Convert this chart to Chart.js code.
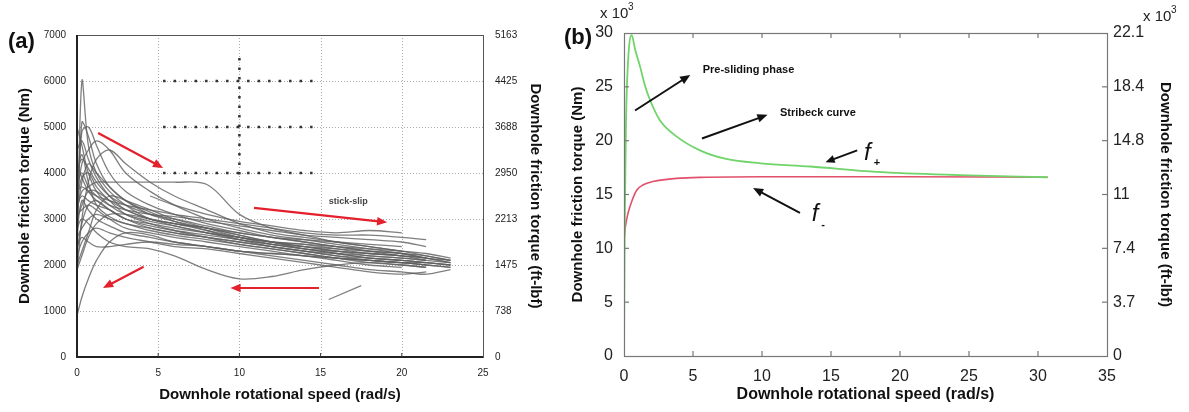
<!DOCTYPE html>
<html>
<head>
<meta charset="utf-8">
<script src="https://cdn.jsdelivr.net/npm/chart.js@4.4.0/dist/chart.umd.min.js"></script>
<style>
  body { margin:0; background:#fff; width:1189px; height:412px; position:relative; overflow:hidden; font-family:"Liberation Sans", Arial, sans-serif; }
  #ca { position:absolute; left:0; top:0; }
  #cb { position:absolute; left:560px; top:0; }
  .tag { position:absolute; font-weight:bold; font-size:22px; color:#111; }
</style>
</head>
<body>
<canvas id="ca" width="560" height="412"></canvas>
<canvas id="cb" width="629" height="412"></canvas>
<div class="tag" style="left:8px;top:28px">(a)</div>
<div class="tag" style="left:564px;top:24px">(b)</div>
<script>
// ---- panel (a): measured torque curves, Nm vs rad/s ----
const speedA = [0, 0.3, 0.7, 1.2, 2, 3, 4.5, 6, 8, 10, 12, 14, 16, 18, 20, 21.5, 23];
const torqueA = [
  [2000, 6000, 4600, 4000, 3600, 3300, 3000, 2900, 2750, 2600, 2500, 2400, 2300, 2200, 2150, 2100, null],
  [2500, 5100, 4800, 4200, 3700, 3400, 3100, 2950, 2800, 2650, 2500, 2400, 2300, 2250, 2200, null, null],
  [3000, 4900, 5000, 4600, 4000, 3600, 3300, 3100, 2900, 2750, 2600, 2500, 2400, 2300, 2200, 2150, 2050],
  [3500, 4200, 4500, 4700, 4500, 4000, 3600, 3300, 3000, 2800, 2650, 2550, 2450, 2350, 2250, 2150, null],
  [1800, 3000, 3800, 4300, 4500, 4200, 3800, 3500, 3200, 2900, 2700, 2600, 2500, 2400, 2300, 2200, 2100],
  [3200, 3600, 3700, 3800, 3800, 3800, 3800, 3800, 3750, 3100, 2800, 2650, 2500, 2400, 2300, null, null],
  [900, 1300, 1700, 2100, 2500, 2700, 2650, 2500, 2400, 2300, 2250, 2200, 2100, 2000, 1950, null, null],
  [1900, 2200, 2600, 2900, 3100, 3100, 3000, 2900, 2800, 2650, 2500, 2350, 2250, 2150, 2100, 2050, 2000],
  [2800, 3000, 2900, 2700, 2500, 2400, 2350, 2200, 1900, 1700, 1750, 1900, 2000, 2050, 2000, 1950, null],
  [4000, 4300, 4100, 3800, 3500, 3300, 3100, 3000, 2850, 2700, 2600, 2500, 2400, 2300, 2250, 2150, 2100],
  [3300, 3500, 3400, 3300, 3200, 3000, 2800, 2700, 2600, 2500, 2400, 2300, 2200, 2100, 2050, 2000, 1950],
  [2600, 2800, 3000, 3100, 3000, 2900, 2750, 2650, 2550, 2450, 2350, 2250, 2150, 2050, 2000, 1950, null],
  [3800, 4000, 3700, 3500, 3300, 3200, 3100, 3050, 2950, 2850, 2750, 2650, 2600, 2550, 2500, 2400, null],
  [2200, 2500, 2700, 2800, 2700, 2600, 2500, 2400, 2350, 2250, 2150, 2050, 1950, 1850, 1800, 1850, null],
  [4500, 4700, 4300, 3900, 3500, 3200, 3000, 2850, 2700, 2600, 2500, 2450, 2400, 2350, 2300, 2250, 2150],
  [3000, 3300, 3600, 3600, 3400, 3200, 3000, 2900, 2800, 2700, 2600, 2550, 2500, 2450, 2400, null, null],
  [3600, 3700, 3600, 3500, 3400, 3300, 3200, 3100, 3000, 2900, 2800, 2700, 2650, 2650, 2600, 2550, null],
  [2400, 2600, 2500, 2400, 2400, 2450, 2500, 2450, 2400, 2300, 2200, 2100, 2000, 1900, 1850, 1800, 1900],
  [5000, 4600, 4000, 3600, 3300, 3100, 2950, 2850, 2700, 2550, 2450, 2350, 2250, 2150, 2100, 2050, 2000],
  [3100, 3200, 3300, 3200, 3000, 2800, 2700, 2600, 2500, 2400, 2300, 2200, 2150, 2100, 2050, 2000, null],
  [4200, 3900, 3600, 3400, 3200, 3000, 2900, 2800, 2700, 2600, 2500, 2450, 2350, 2250, 2200, 2150, 2050],
  [2000, 2300, 2700, 3200, 3500, 3400, 3200, 3000, 2800, 2600, 2450, 2350, 2300, 2250, 2200, 2100, null],
  [null, null, null, null, null, null, 3500, 3300, 3100, 2950, 2850, 2750, 2700, 2750, 2700, null, null],
  [3400, 3900, 4000, 3700, 3400, 3100, 2900, 2750, 2600, 2450, 2350, 2250, 2150, 2100, 2050, 2000, 1950],
  [2700, 3400, 3200, 3000, 2850, 2700, 2600, 2500, 2400, 2300, 2250, 2200, 2150, 2100, 2050, 2050, 2000],
  [3900, 4400, 3800, 3300, 3050, 2900, 2800, 2700, 2600, 2500, 2400, 2300, 2250, 2200, 2150, 2100, 2050],
  [2300, 2900, 3300, 3400, 3200, 3000, 2850, 2750, 2650, 2550, 2450, 2400, 2350, 2300, 2250, 2200, 2100],
  [3100, 3800, 4200, 4000, 3700, 3400, 3150, 2950, 2750, 2550, 2400, 2300, 2200, 2150, 2100, 2050, null]
];
const strayX = [15.5, 17.5];
const strayY = [1250, 1550];
const rightTicksA = ['0', '738', '1475', '2213', '2950', '3688', '4425', '5163'];
// heavy dotted marks printed on the scanned figure
const heavyRows = [6000, 5000, 4000];
const heavyRowX = [5.3, 14.8];
const heavyColX = 10;
const heavyColY = [6500, 3900];

// ---- panel (b): model friction curves, x10^3 Nm ----
const speedPlus = [0, 0.05, 0.15, 0.3, 0.56, 0.8, 1.16, 1.5, 1.88, 2.6, 3.8, 5.5, 7.4, 9.9, 13.5, 18.3, 24.3, 30.7];
const fPlus = [0, 12, 22, 27.5, 29.8, 28.5, 26.9, 25.2, 23.8, 21.9, 20.4, 19.1, 18.3, 17.9, 17.6, 17.1, 16.8, 16.6];
const speedMinus = [0, 0.1, 0.3, 0.6, 0.92, 1.4, 2.1, 3.8, 6, 10, 20, 30.7];
const fMinus = [10.8, 12, 13.3, 14.5, 15.4, 15.9, 16.2, 16.5, 16.6, 16.65, 16.65, 16.6];
const rightTicksB = ['0', '3.7', '7.4', '11', '14.8', '18.4', '22.1'];

function pts(xs, ys) {
  return xs.map((x, i) => ys[i] == null ? null : { x: x, y: ys[i] }).filter(p => p);
}

function arrow(ctx, x1, y1, x2, y2, color, w, head) {
  const a = Math.atan2(y2 - y1, x2 - x1);
  ctx.save();
  ctx.strokeStyle = color; ctx.fillStyle = color; ctx.lineWidth = w;
  ctx.beginPath();
  ctx.moveTo(x1, y1);
  ctx.lineTo(x2 - Math.cos(a) * head * 0.8, y2 - Math.sin(a) * head * 0.8);
  ctx.stroke();
  ctx.beginPath();
  ctx.moveTo(x2, y2);
  ctx.lineTo(x2 - head * Math.cos(a - 0.4), y2 - head * Math.sin(a - 0.4));
  ctx.lineTo(x2 - head * Math.cos(a + 0.4), y2 - head * Math.sin(a + 0.4));
  ctx.closePath();
  ctx.fill();
  ctx.restore();
}

const tickFontA = { family: 'Liberation Sans', size: 10 };
const titleFont = { family: 'Liberation Sans', size: 15, weight: 'bold' };

// ---------------- chart (a) ----------------
const dsA = torqueA.map(v => ({
  data: pts(speedA, v), borderColor: 'rgba(95,95,95,0.8)', borderWidth: 1.3,
  pointRadius: 0, tension: 0.35, yAxisID: 'y'
}));
dsA.push({ data: pts(strayX, strayY), borderColor: 'rgba(95,95,95,0.8)', borderWidth: 1.3, pointRadius: 0, yAxisID: 'y' });
heavyRows.forEach(r => dsA.push({
  data: pts(heavyRowX, heavyRowX.map(() => r)), borderColor: '#333', borderWidth: 2.5,
  borderDash: [2.5, 8], pointRadius: 0, yAxisID: 'y'
}));
dsA.push({ data: pts(heavyColY.map(() => heavyColX), heavyColY), borderColor: '#333', borderWidth: 2.5,
  borderDash: [2.5, 7], pointRadius: 0, yAxisID: 'y' });

const frameA = {
  id: 'frameA',
  beforeDatasetsDraw(chart) {
    const { ctx, chartArea: ca, scales } = chart;
    ctx.save();
    ctx.strokeStyle = '#aaa'; ctx.lineWidth = 1; ctx.setLineDash([1, 2]);
    [5, 10, 15, 20].forEach(v => {
      const x = Math.round(scales.x.getPixelForValue(v)) + 0.5;
      ctx.beginPath(); ctx.moveTo(x, ca.top); ctx.lineTo(x, ca.bottom); ctx.stroke();
    });
    [1000, 2000, 3000, 4000, 5000, 6000].forEach(v => {
      const y = Math.round(scales.y.getPixelForValue(v)) + 0.5;
      ctx.beginPath(); ctx.moveTo(ca.left, y); ctx.lineTo(ca.right, y); ctx.stroke();
    });
    ctx.restore();
  },
  afterDraw(chart) {
    const { ctx, chartArea: ca, scales } = chart;
    ctx.save();
    ctx.strokeStyle = '#555'; ctx.lineWidth = 1;
    ctx.strokeRect(ca.left + 0.5, ca.top + 0.5, ca.right - ca.left, ca.bottom - ca.top);
    ctx.strokeStyle = '#222'; ctx.lineWidth = 2;
    ctx.beginPath(); ctx.moveTo(ca.left, ca.top); ctx.lineTo(ca.left, ca.bottom); ctx.lineTo(ca.right, ca.bottom); ctx.stroke();
    ctx.lineWidth = 1; ctx.strokeStyle = '#333';
    [5, 10, 15, 20].forEach(v => {
      const x = scales.x.getPixelForValue(v);
      ctx.beginPath(); ctx.moveTo(x, ca.bottom); ctx.lineTo(x, ca.bottom - 4); ctx.stroke();
    });
    // red arrows
    const X = v => scales.x.getPixelForValue(v), Y = v => scales.y.getPixelForValue(v);
    const red = '#e3202b';
    arrow(ctx, X(1.3), Y(4870), X(5.3), Y(4110), red, 2.2, 11);
    arrow(ctx, X(10.9), Y(3240), X(19.1), Y(2930), red, 2.2, 11);
    arrow(ctx, X(4.1), Y(1960), X(1.6), Y(1500), red, 2.2, 11);
    arrow(ctx, X(14.9), Y(1500), X(9.45), Y(1500), red, 2.2, 11);
    ctx.fillStyle = '#444'; ctx.font = 'bold 9px "Liberation Sans"';
    ctx.textAlign = 'center'; ctx.textBaseline = 'middle';
    ctx.fillText('stick-slip', X(16.7), Y(3390));
    ctx.restore();
  }
};

new Chart(document.getElementById('ca'), {
  type: 'line',
  data: { datasets: dsA },
  options: {
    responsive: false, animation: false, devicePixelRatio: 1,
    layout: { padding: { top: 35, left: 0, right: 0, bottom: 0 } },
    plugins: { legend: { display: false }, tooltip: { enabled: false } },
    scales: {
      x: {
        type: 'linear', min: 0, max: 25,
        ticks: { stepSize: 5, color: '#222', font: tickFontA, padding: 2 },
        grid: { display: false }, border: { display: false },
        title: { display: true, text: 'Downhole rotational speed (rad/s)', color: '#111', font: titleFont, padding: { top: 0, bottom: 8 } },
        afterFit(s) { s.height = 55; }
      },
      y: {
        min: 0, max: 7000,
        ticks: { stepSize: 1000, color: '#222', font: tickFontA, padding: 3, callback: v => String(v) },
        grid: { display: false }, border: { display: false },
        title: { display: true, text: 'Downhole friction torque (Nm)', color: '#111', font: titleFont, padding: { top: 16, bottom: 0 } },
        afterFit(s) { s.width = 77; }
      },
      y2: {
        position: 'right', min: 0, max: 7000,
        ticks: { stepSize: 1000, color: '#222', font: tickFontA, padding: 4, callback: (v, i) => rightTicksA[i] },
        grid: { display: false }, border: { display: false },
        title: { display: true, text: 'Downhole friction torque (ft-lbf)', color: '#111', font: titleFont, padding: { top: 16, bottom: 0 } },
        afterFit(s) { s.width = 77; }
      }
    }
  },
  plugins: [frameA]
});

// ---------------- chart (b) ----------------
const tickFontB = { family: 'Liberation Sans', size: 16 };

const frameB = {
  id: 'frameB',
  afterDraw(chart) {
    const { ctx, chartArea: ca, scales } = chart;
    const X = v => scales.x.getPixelForValue(v), Y = v => scales.y.getPixelForValue(v);
    ctx.save();
    ctx.strokeStyle = '#777'; ctx.lineWidth = 1.2;
    ctx.strokeRect(ca.left + 0.5, ca.top + 0.5, ca.right - ca.left, ca.bottom - ca.top);
    [5, 10, 15, 20, 25, 30].forEach(v => {
      const x = X(v);
      ctx.beginPath(); ctx.moveTo(x, ca.bottom); ctx.lineTo(x, ca.bottom - 5); ctx.stroke();
      ctx.beginPath(); ctx.moveTo(x, ca.top); ctx.lineTo(x, ca.top + 5); ctx.stroke();
    });
    [5, 10, 15, 20, 25].forEach(v => {
      const y = Y(v);
      ctx.beginPath(); ctx.moveTo(ca.right, y); ctx.lineTo(ca.right - 5, y); ctx.stroke();
      ctx.beginPath(); ctx.moveTo(ca.left, y); ctx.lineTo(ca.left + 5, y); ctx.stroke();
    });
    // exponent marks
    ctx.fillStyle = '#222'; ctx.textBaseline = 'middle'; ctx.textAlign = 'left';
    ctx.font = '15px "Liberation Sans"';
    ctx.fillText('x 10', ca.left - 24, ca.top - 19);
    ctx.fillText('x 10', ca.right + 36, ca.top - 16);
    ctx.font = '10px "Liberation Sans"';
    ctx.fillText('3', ca.left + 4, ca.top - 26);
    ctx.fillText('3', ca.right + 64, ca.top - 23);
    // annotations
    const k = '#111';
    arrow(ctx, X(0.8), Y(22.8), X(4.8), Y(26.1), k, 2, 11);
    arrow(ctx, X(5.65), Y(20.2), X(10.4), Y(22.4), k, 2, 11);
    arrow(ctx, X(16.9), Y(19.1), X(14.6), Y(18.0), k, 2, 10);
    arrow(ctx, X(12.75), Y(13.3), X(9.35), Y(15.6), k, 2, 11);
    ctx.fillStyle = k; ctx.font = 'bold 11px "Liberation Sans"';
    ctx.fillText('Pre-sliding phase', X(5.7), Y(26.6));
    ctx.fillText('Stribeck curve', X(11.3), Y(22.6));
    ctx.font = 'italic 24px "Liberation Sans"';
    ctx.fillText('f', X(17.4), Y(18.8));
    ctx.fillText('f', X(13.6), Y(13.2));
    ctx.font = 'bold 11px "Liberation Sans"';
    ctx.fillText('+', X(18.1), Y(17.9));
    ctx.fillText('-', X(14.3), Y(12.2));
    ctx.restore();
  }
};

new Chart(document.getElementById('cb'), {
  type: 'line',
  data: {
    datasets: [
      { label: 'f+', data: pts(speedPlus, fPlus), borderColor: '#6fd46a', borderWidth: 1.8, pointRadius: 0, cubicInterpolationMode: 'monotone', yAxisID: 'y' },
      { label: 'f-', data: pts(speedMinus, fMinus), borderColor: '#e0506a', borderWidth: 1.6, pointRadius: 0, cubicInterpolationMode: 'monotone', yAxisID: 'y' }
    ]
  },
  options: {
    responsive: false, animation: false, devicePixelRatio: 1,
    layout: { padding: { top: 33, left: 0, right: 0, bottom: 0 } },
    plugins: { legend: { display: false }, tooltip: { enabled: false } },
    scales: {
      x: {
        type: 'linear', min: 0, max: 35,
        ticks: { stepSize: 5, color: '#222', font: tickFontB, padding: 3 },
        grid: { display: false }, border: { display: false },
        title: { display: true, text: 'Downhole rotational speed (rad/s)', color: '#111', font: { family: 'Liberation Sans', size: 16, weight: 'bold' }, padding: { top: 0, bottom: 8 } },
        afterFit(s) { s.height = 56; }
      },
      y: {
        min: 0, max: 30,
        ticks: { stepSize: 5, color: '#222', font: tickFontB, padding: 3 },
        grid: { display: false }, border: { display: false },
        title: { display: true, text: 'Downhole friction torque (Nm)', color: '#111', font: titleFont, padding: { top: 9, bottom: 0 } },
        afterFit(s) { s.width = 64; }
      },
      y2: {
        position: 'right', min: 0, max: 30,
        ticks: { stepSize: 5, color: '#222', font: tickFontB, padding: -2, callback: (v, i) => rightTicksB[i] },
        grid: { display: false }, border: { display: false },
        title: { display: true, text: 'Downhole friction torque (ft-lbf)', color: '#111', font: titleFont, padding: { top: 15, bottom: 0 } },
        afterFit(s) { s.width = 82; }
      }
    }
  },
  plugins: [frameB]
});
</script>
</body>
</html>
